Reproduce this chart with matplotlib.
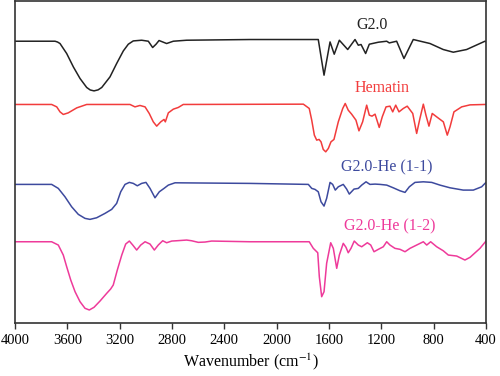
import matplotlib
matplotlib.use("Agg")
import matplotlib.pyplot as plt

plt.rcParams['font.family'] = ['Liberation Serif', 'DejaVu Serif']
plt.rcParams['mathtext.fontset'] = 'stix'

# ---- data (wavenumber, offset transmittance in arbitrary units) ----
g20_w = [4000, 3694, 3675, 3656, 3605, 3554, 3503, 3452, 3425, 3396, 3365, 3337, 3274, 3223, 3172, 3134, 3096,
         3032, 2981, 2948, 2922, 2899, 2841, 2790, 2688, 2204, 1682, 1638, 1592, 1560, 1521,
         1457, 1401, 1376, 1355, 1320, 1292, 1223, 1159, 1139, 1083, 1027, 956, 828, 727,
         650, 548, 408, 400]
g20_t = [282, 282, 281.2, 279.7, 269.7, 256.3, 244.7, 235.7, 233.2, 232.3, 233.3, 235.7, 246.3, 259.7, 272.3, 279, 282.3,
         283, 282, 275.7, 279, 282.7, 279.7, 282, 283, 283.7, 283.7, 248, 281.3, 269, 283,
         273.7, 283.7, 278, 278.7, 269.7, 279, 281, 282, 280.3, 282, 264.7, 283.7, 279.7, 273.7,
         271, 273.7, 282, 281.5]

hem_w = [4000, 3720, 3681, 3656, 3631, 3593, 3528, 3452, 3121, 3083, 3045, 3006, 2974, 2943,
         2917, 2886, 2861, 2851, 2828, 2790, 2752, 2714, 1796, 1751, 1732, 1712, 1694, 1676,
         1661, 1644, 1625, 1605, 1585, 1562, 1529, 1495, 1476, 1453, 1427, 1394, 1371, 1343,
         1312, 1292, 1271, 1248, 1216, 1193, 1164, 1134, 1113, 1090, 1065, 1032, 1002, 960,
         930, 905, 879, 859, 836, 811, 777, 726, 696, 675, 645, 586, 522, 408, 400]
hem_t = [218.7, 218.7, 216.3, 211.3, 208.7, 210.3, 215.3, 218.7, 218.7, 216.3, 217.7, 216.3, 209.7, 201.3,
         197, 201.3, 203.7, 201.3, 210.3, 214, 215.7, 218.7, 219, 214.7, 203, 188, 183, 183.7,
         181.3, 173.7, 171.3, 174.7, 181.3, 183.7, 201.3, 214.7, 219.7, 213, 209, 203, 192.3, 201.3,
         218, 208, 207, 209, 195.7, 206.3, 216.3, 217, 211.3, 218, 211.3, 214.7, 217, 209.7,
         189.7, 204.7, 219, 208, 197, 209.7, 206.3, 201.3, 188, 196.3, 211.3, 216.3, 218.3, 218.7, 218.7]

he11_w = [4000, 3720, 3669, 3618, 3567, 3516, 3465, 3427, 3376, 3312, 3261, 3223, 3192, 3159,
          3126, 3096, 3065, 3032, 2999, 2968, 2930, 2897, 2861, 2828, 2777, 2204, 1758, 1732,
          1707, 1682, 1661, 1638, 1618, 1592, 1572, 1552, 1529, 1491, 1465, 1445, 1409, 1376,
          1350, 1317, 1287, 1248, 1210, 1159, 1109, 1057, 1019, 986, 943, 879, 815, 752,
          675, 574, 497, 433, 408, 400]
he11_t = [138.7, 138.7, 134.7, 126.3, 116.3, 108.7, 104.7, 103.7, 105.3, 109.7, 113.7, 119.7, 131.3, 138.7,
          140.7, 139.7, 137.3, 139.7, 140.7, 134.7, 125.3, 131.3, 134.7, 138, 140.3, 139.7, 138.7, 134.7,
          133.7, 131.3, 121.3, 117, 124.7, 140.7, 138.7, 133, 136.3, 138.7, 134, 129, 134, 134.7,
          138, 141.3, 138.7, 139, 138.7, 138, 135.3, 132.3, 130.7, 136.3, 140.7, 141.3, 140.7, 138,
          135.3, 133, 133, 136.3, 139.7, 140.5]

he12_w = [4000, 3720, 3669, 3631, 3605, 3574, 3541, 3503, 3465, 3432, 3396, 3350, 3299, 3269,
          3249, 3218, 3184, 3154, 3126, 3100, 3070, 3039, 3006, 2968, 2935, 2905, 2871, 2841,
          2802, 2764, 2688, 2650, 2599, 2548, 2497, 2204, 1751, 1720, 1686, 1674, 1656, 1638,
          1618, 1587, 1567, 1541, 1521, 1491, 1470, 1453, 1432, 1407, 1376, 1350, 1307, 1281,
          1256, 1223, 1185, 1159, 1134, 1096, 1057, 1019, 981, 930, 879, 853, 823, 777,
          727, 688, 624, 561, 522, 446, 400]
he12_t = [81.3, 81.3, 78, 68, 56.3, 43, 31.3, 21.3, 14.7, 13, 15.7, 22, 29.7, 34,
          38, 53, 68, 79, 82, 78, 73, 78, 81.3, 79, 73, 78, 82.3, 80.3,
          82, 82.3, 83, 82.3, 80.7, 81, 82, 81.3, 81.3, 74.7, 70.3, 46.3, 26.3, 31.3,
          59.7, 80.3, 74.7, 54.7, 68, 79.7, 75.7, 70.3, 74.7, 82, 78, 76.3, 80.3, 78,
          71.3, 73.7, 76.3, 81.3, 78, 74.7, 73.7, 71.3, 74.7, 78, 81.3, 78, 81.3, 76.3,
          72.3, 68, 67, 63, 65.7, 74.7, 82]

labels = ["G2.0", "Hematin", "G2.0-He (1-1)", "G2.0-He (1-2)"]
colors = ["#222222", "#f23c3c", "#3d4a9e", "#ee3a9a"]
label_pos = [(1274, 298), (1197, 235), (1157, 156), (1134, 97)]

xticks = [4000, 3600, 3200, 2800, 2400, 2000, 1600, 1200, 800, 400]

fig = plt.figure(figsize=(5.0, 3.76), dpi=100)
ax = fig.add_axes([0.030, 0.141, 0.942, 0.857])

series = [(g20_w, g20_t), (hem_w, hem_t), (he11_w, he11_t), (he12_w, he12_t)]
for (w, t), c, lab, (lx, ly) in zip(series, colors, labels, label_pos):
    ax.plot(w, t, color=c, lw=1.1, solid_joinstyle='round')
    ax.text(lx, ly, lab, color=c, fontsize=11.5, ha='center', va='center')

ax.set_xlim(4000, 400)
ax.set_ylim(0, 322.5)
ax.set_xticks(xticks)
ax.set_xticklabels([str(v) for v in xticks], fontsize=10.5)
ax.set_yticks([])
ax.tick_params(axis='x', direction='out', length=4, width=1.0, color='#333333', pad=4)
for s in ax.spines.values():
    s.set_color('#333333')
    s.set_linewidth(1.2)
ax.set_xlabel("Wavenumber (cm$^{-1}$)", fontsize=11.5, labelpad=3)

fig.savefig("out.png", dpi=100)
